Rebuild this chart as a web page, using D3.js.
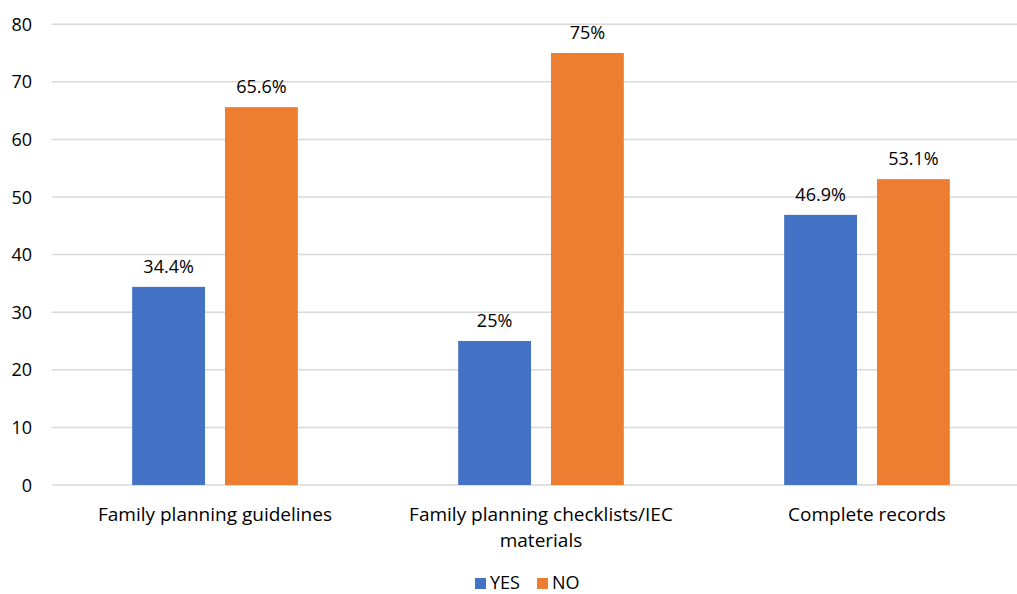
<!DOCTYPE html>
<html lang="en">
<head>
    <meta charset="UTF-8">
    <title>Family planning availability</title>
    <script src="https://d3js.org/d3.v7.min.js"></script>
    <style>
        body { margin: 0; background: #fff; font-family: "Open Sans", Arial, sans-serif; }
        .grid line { stroke: #d9d9d9; stroke-width: 1.5px; }
        .tick-label { font-size: 18px; fill: #000; }
        .cat-label { font-size: 19px; fill: #000; }
        .value-label { font-size: 18px; fill: #000; }
        .legend text { font-size: 18px; fill: #000; }
    </style>
</head>
<body>
    <svg width="1017" height="594"></svg>
    <script>
        // chart data
        const categories = [
            ["Family planning guidelines"],
            ["Family planning checklists/IEC", "materials"],
            ["Complete records"]
        ];
        const seriesNames = ["YES", "NO"];
        const yesValues = [34.4, 25, 46.9];
        const noValues = [65.6, 75, 53.1];
        const valueLabels = [["34.4%", "25%", "46.9%"], ["65.6%", "75%", "53.1%"]];
        const yTicks = [0, 10, 20, 30, 40, 50, 60, 70, 80];
        const colors = ["#4472c4", "#ed7d31"];

        const svg = d3.select("svg");
        const plotLeft = 52, plotRight = 1030, plotTop = 24.2, plotBottom = 485;

        const x0 = d3.scaleBand()
            .domain(d3.range(categories.length))
            .range([plotLeft, plotRight]);
        const x1 = d3.scaleBand()
            .domain(d3.range(seriesNames.length))
            .range([0, x0.bandwidth()])
            .paddingInner(0.215)
            .paddingOuter(0.864);
        const y = d3.scaleLinear().domain([0, 80]).range([plotBottom, plotTop]);

        // gridlines
        svg.append("g").attr("class", "grid")
            .selectAll("line").data(yTicks).enter().append("line")
            .attr("x1", plotLeft).attr("x2", 1017)
            .attr("y1", d => y(d)).attr("y2", d => y(d));

        // y tick labels
        svg.append("g").selectAll("text").data(yTicks).enter().append("text")
            .attr("class", "tick-label")
            .attr("x", 32).attr("y", d => y(d) + 6.5)
            .attr("text-anchor", "end")
            .text(d => d);

        const series = [yesValues, noValues];
        series.forEach((vals, s) => {
            svg.append("g").selectAll("rect").data(vals).enter().append("rect")
                .attr("x", (d, i) => x0(i) + x1(s))
                .attr("width", x1.bandwidth())
                .attr("y", d => y(d))
                .attr("height", d => y(0) - y(d))
                .attr("fill", colors[s]);

            svg.append("g").selectAll("text").data(vals).enter().append("text")
                .attr("class", "value-label")
                .attr("x", (d, i) => x0(i) + x1(s) + x1.bandwidth() / 2)
                .attr("y", d => y(d) - 14)
                .attr("text-anchor", "middle")
                .text((d, i) => valueLabels[s][i]);
        });

        // category labels
        categories.forEach((lines, i) => {
            const cx = x0(i) + x0.bandwidth() / 2;
            const t = svg.append("text")
                .attr("class", "cat-label")
                .attr("text-anchor", "middle")
                .attr("x", cx)
                .attr("y", 521);
            lines.forEach((line, k) => {
                t.append("tspan")
                    .attr("x", cx)
                    .attr("dy", k === 0 ? 0 : 26)
                    .text(line);
            });
        });

        // legend
        const legend = svg.append("g").attr("class", "legend");
        const legendX = [475, 537];
        seriesNames.forEach((name, s) => {
            legend.append("rect")
                .attr("x", legendX[s]).attr("y", 578)
                .attr("width", 11).attr("height", 11)
                .attr("fill", colors[s]);
            legend.append("text")
                .attr("x", legendX[s] + 15).attr("y", 589)
                .text(name);
        });
    </script>
</body>
</html>
